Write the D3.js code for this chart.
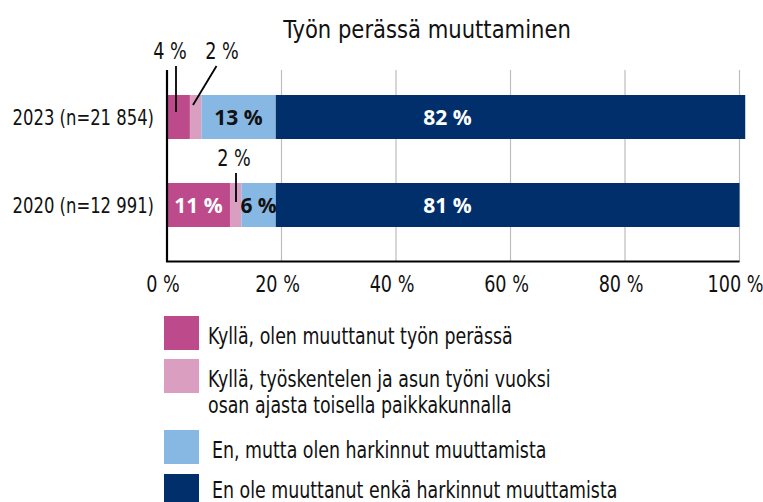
<!DOCTYPE html>
<html>
<head>
<meta charset="utf-8">
<script src="https://cdn.jsdelivr.net/npm/d3@7"></script>
<style>
  html, body { margin: 0; padding: 0; background: #fff; }
  svg { display: block; }
  .cond { font-family: "DejaVu Sans Condensed", "DejaVu Sans", sans-serif; fill: #111; }
  .bold { font-family: "Open Sans", "DejaVu Sans", sans-serif; font-weight: 700; }
</style>
</head>
<body>
<svg id="chart" width="763" height="502"></svg>
<script>
// Survey responses by year, percentages
const categories = ["2023 (n=21 854)", "2020 (n=12 991)"];
const seriesNames = [
  "Kyllä, olen muuttanut työn perässä",
  "Kyllä, työskentelen ja asun työni vuoksi osan ajasta toisella paikkakunnalla",
  "En, mutta olen harkinnut muuttamista",
  "En ole muuttanut enkä harkinnut muuttamista"
];
const movedForWork = [4, 11];
const partTimeElsewhere = [2, 2];
const consideredMoving = [13, 6];
const notMovedNotConsidered = [82, 81];
const xTicks = [0, 20, 40, 60, 80, 100];
const colors = ["#bd4b8b", "#d99ec0", "#86b8e3", "#002f6b"];

const series = [movedForWork, partTimeElsewhere, consideredMoving, notMovedNotConsidered];

const svg = d3.select("#chart");

// Narrow-set text: glyphs drawn at a horizontal squeeze around the anchor point
function narrowText(parent, ax, ay, size, squeeze, anchor) {
  return parent.append("text")
    .attr("class", "cond")
    .attr("x", 0).attr("y", ay)
    .attr("transform", `translate(${ax},0) scale(${squeeze},1)`)
    .attr("text-anchor", anchor || "start")
    .style("font-size", size + "px");
}

const x = d3.scaleLinear().domain([0, 100]).range([167, 739.5]);
const y = d3.scaleBand().domain(categories).range([73, 249]).paddingInner(0.5).paddingOuter(0.25);

// Title
narrowText(svg, 427, 38, 25, 0.94, "middle").text("Työn perässä muuttaminen");

// Vertical gridlines
svg.append("g").selectAll("line")
  .data(xTicks.slice(1))
  .join("line")
  .attr("x1", d => x(d)).attr("x2", d => x(d))
  .attr("y1", 70).attr("y2", 262)
  .attr("stroke", "#bdbdbd").attr("stroke-width", 1.2);

// Stacked rows
const rows = categories.map((c, i) => {
  let acc = 0;
  return series.map((s, k) => {
    const start = acc;
    acc += s[i];
    return { cat: c, k, value: s[i], start, end: acc };
  });
});

const g = svg.append("g");
rows.forEach(row => {
  g.selectAll(null)
    .data(row)
    .enter()
    .append("rect")
    .attr("x", d => x(d.start))
    .attr("y", d => y(d.cat))
    .attr("width", d => x(d.end) - x(d.start))
    .attr("height", y.bandwidth())
    .attr("fill", d => colors[d.k]);
});

// Axis lines
svg.append("line").attr("x1", 167).attr("x2", 167).attr("y1", 70).attr("y2", 262)
  .attr("stroke", "#000").attr("stroke-width", 2.2);
svg.append("line").attr("x1", 166).attr("x2", x(100)).attr("y1", 261.5).attr("y2", 261.5)
  .attr("stroke", "#000").attr("stroke-width", 2.2);

// Tick labels
const tg = svg.append("g");
xTicks.forEach(t => {
  narrowText(tg, x(t) - 4, 292, 22.5, 0.87, "middle").text(t + " %");
});

// Category labels
const cg = svg.append("g");
categories.forEach(c => {
  narrowText(cg, 154, y(c) + y.bandwidth() / 2 + 8, 22, 0.83, "end").text(c);
});

// Value labels inside the bars
const inside = [];
rows.forEach(row => row.forEach(d => {
  if (d.value >= 5) inside.push(d);
}));
svg.append("g").selectAll("text")
  .data(inside)
  .join("text")
  .attr("class", "bold")
  .attr("x", d => d.k === 3 ? x(49) : x((d.start + d.end) / 2))
  .attr("y", d => y(d.cat) + y.bandwidth() / 2 + 7.5)
  .attr("text-anchor", "middle")
  .style("font-size", "21px")
  .attr("fill", d => (d.k === 2 ? "#111" : "#fff"))
  .text(d => d.value + " %");

// Small segments get labels above the bar with leader lines
const y23 = y(categories[0]);
const y20 = y(categories[1]);
const callouts = [
  { d: rows[0][0], tx: 170, ty: 59, lx1: 176, ly1: 66, lx2: 176, ly2: y23 + 17 },
  { d: rows[0][1], tx: 222, ty: 59, lx1: 216.5, ly1: 66, lx2: 193, ly2: y23 + 10 },
  { d: rows[1][1], tx: 234, ty: 166, lx1: 236, ly1: 173, lx2: 236, ly2: y20 + 19 }
];
callouts.forEach(c => {
  svg.append("line")
    .attr("x1", c.lx1).attr("y1", c.ly1).attr("x2", c.lx2).attr("y2", c.ly2)
    .attr("stroke", "#000").attr("stroke-width", 1.8);
  narrowText(svg, c.tx, c.ty, 22.5, 0.87, "middle").text(c.d.value + " %");
});

// Legend
const legendItems = [
  { k: 0, sy: 316, tx: 208, lines: [seriesNames[0]], ty: 344 },
  { k: 1, sy: 359, tx: 208, lines: ["Kyllä, työskentelen ja asun työni vuoksi", "osan ajasta toisella paikkakunnalla"], ty: 387 },
  { k: 2, sy: 430, tx: 212, lines: [seriesNames[2]], ty: 458 },
  { k: 3, sy: 474, tx: 212, lines: [seriesNames[3]], ty: 498 }
];
const lg = svg.append("g");
legendItems.forEach(it => {
  lg.append("rect")
    .attr("x", 164).attr("y", it.sy)
    .attr("width", 35).attr("height", 34)
    .attr("fill", colors[it.k]);
  const t = narrowText(lg, it.tx, it.ty, 22.5, 0.86, "start");
  it.lines.forEach((ln, j) => {
    t.append("tspan").attr("x", 0).attr("dy", j === 0 ? 0 : 26).text(ln);
  });
});
</script>
</body>
</html>
